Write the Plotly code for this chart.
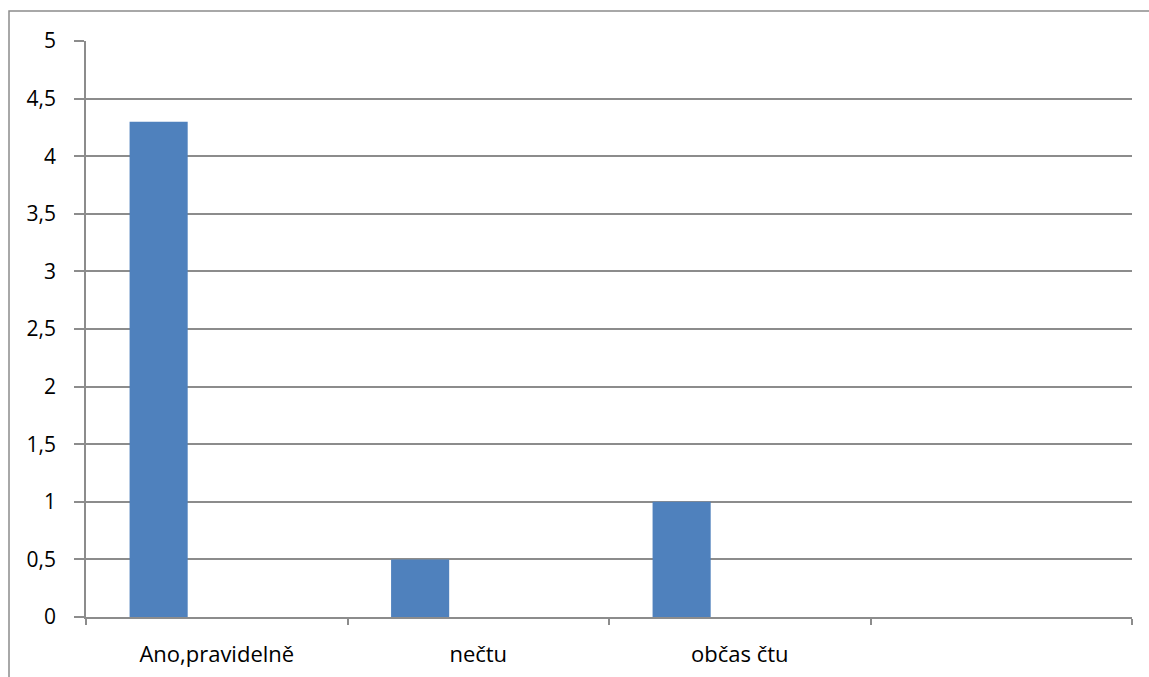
import plotly.graph_objects as go

categories = ["Ano,pravidelně", "nečtu", "občas čtu", " "]
series1 = [4.3, 0.5, 1.0, None]
series2 = [None, None, None, None]
series3 = [None, None, None, None]
y_ticks = [0, 0.5, 1, 1.5, 2, 2.5, 3, 3.5, 4, 4.5, 5]

bar_color = "#4F81BD"
grid_color = "#8C8C8C"
font_family = "Open Sans, Lato, Liberation Sans, sans-serif"

W, H = 1149, 677
L, R, T, B = 86, 17, 41, 60
pw, ph = W - L - R, H - T - B

fig = go.Figure()
for name, vals in [("Řada 1", series1), ("Řada 2", series2), ("Řada 3", series3)]:
    fig.add_trace(go.Bar(x=categories, y=vals, name=name, marker=dict(color=bar_color, line=dict(width=0))))

fig.update_layout(
    width=W, height=H,
    margin=dict(l=L, r=R, t=T, b=B),
    paper_bgcolor="white", plot_bgcolor="white",
    barmode="group", bargap=1/3, bargroupgap=0,
    showlegend=False,
    separators=", ",
    font=dict(family=font_family, size=20, color="#000000"),
    xaxis=dict(
        type="category", categoryorder="array", categoryarray=categories,
        range=[-0.5, 3.5], automargin=False,
        tickson="boundaries", ticks="outside", ticklen=6, tickcolor=grid_color, tickwidth=1.5,
        showline=True, linecolor=grid_color, linewidth=1.5,
        showgrid=False, zeroline=False,
        tickfont=dict(size=22),
        ticklabelstandoff=17,
    ),
    yaxis=dict(
        range=[0, 5], tickvals=y_ticks, automargin=False,
        ticks="outside", ticklen=10, tickcolor=grid_color, tickwidth=1.5,
        showline=True, linecolor=grid_color, linewidth=1.5,
        showgrid=True, gridcolor=grid_color, gridwidth=1.5,
        zeroline=False,
        tickfont=dict(size=21),
        ticklabelstandoff=14,
    ),
    shapes=[dict(type="rect", xref="paper", yref="paper",
                 x0=(9 - L) / pw, x1=1.2, y0=-0.3, y1=(ph + T - 11) / ph,
                 line=dict(color="#8C8C8C", width=1.5), fillcolor="rgba(0,0,0,0)", layer="below")],
)

# remove the browser's default page margin so the figure sits at the window origin
fig.write_html("out.html", config={"displayModeBar": False},
               post_script="document.body.style.margin='0';document.body.style.overflow='hidden';")
